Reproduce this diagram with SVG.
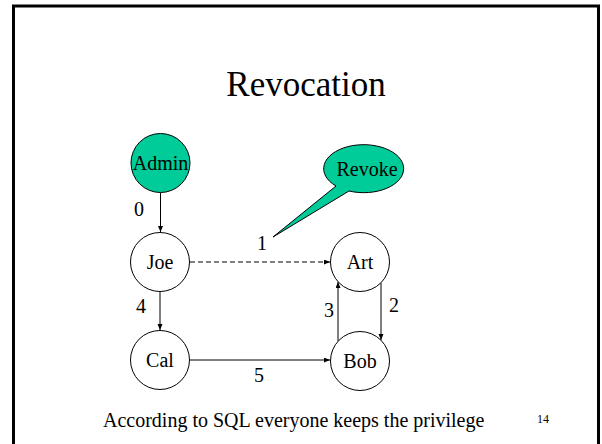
<svg xmlns="http://www.w3.org/2000/svg" width="602" height="444" viewBox="0 0 602 444">
<defs>
<marker id="ah" markerWidth="6" markerHeight="6" refX="6" refY="2.5" orient="auto" markerUnits="userSpaceOnUse">
<path d="M0,0 L6,2.5 L0,5 z" fill="#000"/>
</marker>
<style>
text{font-family:"Liberation Serif","Times New Roman",serif;fill:#000}
.n{fill:#fff;stroke:#000;stroke-width:1}
.g{fill:#00CC99;stroke:#000;stroke-width:1}
.lbl{font-size:20px;text-anchor:middle}
.e{stroke:#000;stroke-width:1;fill:none;marker-end:url(#ah)}
</style>
</defs>
<rect x="0" y="0" width="602" height="444" fill="#fff"/>
<rect x="13.5" y="6" width="585" height="460" fill="none" stroke="#000" stroke-width="3"/>
<text x="306" y="96" font-size="35" text-anchor="middle">Revocation</text>
<g id="connectors">
<line class="e" x1="160.5" y1="193" x2="160.5" y2="232"/>
<line class="e" x1="190" y1="262" x2="330" y2="262" stroke-dasharray="5,3"/>
<line class="e" x1="160" y1="291.5" x2="160" y2="330"/>
<line class="e" x1="381" y1="283" x2="381" y2="340"/>
<line class="e" x1="338" y1="341" x2="338" y2="282"/>
<line class="e" x1="190" y1="360" x2="330" y2="360"/>
<text class="lbl" x="139" y="216">0</text>
<text class="lbl" x="262" y="250">1</text>
<text class="lbl" x="394" y="312">2</text>
<text class="lbl" x="329" y="317">3</text>
<text class="lbl" x="141" y="313">4</text>
<text class="lbl" x="259" y="382">5</text>
</g>
<g id="admin"><circle class="g" cx="160.5" cy="163" r="29.5"/><text class="lbl" x="160.5" y="170">Admin</text></g>
<g id="joe"><circle class="n" cx="160" cy="262" r="29.5"/><text class="lbl" x="160" y="269">Joe</text></g>
<g id="cal"><circle class="n" cx="160" cy="360" r="29.5"/><text class="lbl" x="160" y="367">Cal</text></g>
<g id="art"><circle class="n" cx="360" cy="262" r="29.5"/><text class="lbl" x="360" y="269">Art</text></g>
<g id="bob"><circle class="n" cx="360" cy="361" r="29.5"/><text class="lbl" x="360" y="368">Bob</text></g>
<g id="revoke">
<path class="g" d="M336,186 A40,24 0 1 1 349,191 L273,237 Z"/>
<text class="lbl" x="367" y="176">Revoke</text>
</g>
<text x="103" y="427" font-size="20">According to SQL everyone keeps the privilege</text>
<text x="537" y="423" font-size="12">14</text>
</svg>
